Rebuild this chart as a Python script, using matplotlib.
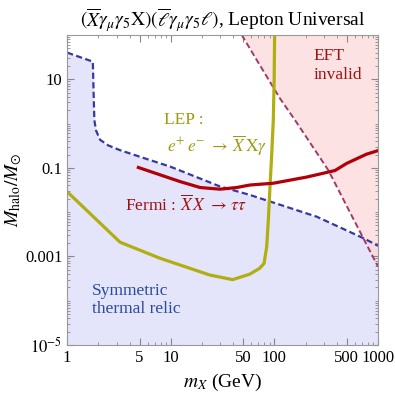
import numpy as np
import matplotlib
matplotlib.use('Agg')
import matplotlib.pyplot as plt
from matplotlib.ticker import LogLocator, NullFormatter

# thermal relic boundary (blue dashed)
relic_x = [1.0, 1.77, 1.80, 1.83, 1.9, 2.08, 2.5, 3.25, 6.3, 9.85, 29.9, 58, 256, 720, 1000]
relic_y = [40, 25, 5, 1.2, 0.7, 0.43, 0.32, 0.25, 0.15, 0.107, 0.038, 0.0245, 0.0079, 0.0026, 0.00174]

# EFT validity limit (purple dashed)
eft_x = [48.4, 67.5, 113, 158, 331, 720, 1000]
eft_y = [100, 27.3, 3.72, 1.2, 0.089, 0.0026, 0.00059]

# LEP bound (olive)
lep_x = [1.0, 3.24, 7.88, 23.9, 39.6, 58, 72, 79.5, 84.3, 87.4, 90.7, 94.3, 97.6, 99.5, 100.5]
lep_y = [0.029, 0.0021, 0.00091, 0.00038, 0.0003, 0.0004, 0.00054, 0.0007, 0.00166, 0.0066,
         0.038, 0.21, 1.2, 10, 100]

# Fermi bound (red)
fermi_x = [4.87, 12.3, 19.2, 29.9, 43.3, 58, 97.6, 205, 384, 498, 776, 1000]
fermi_y = [0.102, 0.049, 0.036, 0.033, 0.036, 0.041, 0.045, 0.062, 0.087, 0.126, 0.204, 0.245]

plt.rcParams['font.family'] = ['Liberation Serif', 'DejaVu Serif']
plt.rcParams['mathtext.fontset'] = 'stix'

fig = plt.figure(figsize=(3.95, 3.93), dpi=100)
ax = fig.add_axes([0.17, 0.122, 0.787, 0.789])
ax.set_xscale('log')
ax.set_yscale('log')
ax.set_xlim(1, 1000)
ax.set_ylim(1e-5, 100)

ax.fill_between(relic_x, relic_y, 1e-5, color='#dcdcfa', alpha=0.75, lw=0)
ax.fill_between(eft_x, eft_y, 100, color='#fcd6d6', alpha=0.7, lw=0)

ax.plot(relic_x, relic_y, color='#3838a0', lw=1.6, dashes=(2.8, 1.5))
ax.plot(eft_x, eft_y, color='#a03a6a', lw=1.4, dashes=(3.1, 1.6))
ax.plot(lep_x, lep_y, color='#b0ae10', lw=2.3)
ax.plot(fermi_x, fermi_y, color='#b00008', lw=2.3)

fs = 12.5
ax.text(240, 20, 'EFT\ninvalid', color='#a01010', fontsize=fs, ha='left', va='center', linespacing=1.25)
ax.text(8.6, 1.2, 'LEP :', color='#9c9a10', fontsize=fs, ha='left', va='center')
ax.text(9.2, 0.31, r'$e^{+}\,e^{-}\ \rightarrow\,\overline{X}\,\mathrm{X}\gamma$', color='#9c9a10',
        fontsize=fs, ha='left', va='center')
ax.text(3.6, 0.0145, r'Fermi : $\overline{X}\,X\ \rightarrow\,\tau\tau$', color='#a01010',
        fontsize=fs, ha='left', va='center')
ax.text(1.73, 0.000104, 'Symmetric\nthermal relic', color='#2a4c9c', fontsize=fs,
        ha='left', va='center', linespacing=1.2)

ax.set_xticks([1, 5, 10, 50, 100, 500, 1000])
ax.set_xticklabels(['1', '5', '10', '50', '100', '500', '1000'])
ax.set_yticks([1e-5, 1e-3, 1e-1, 10])
ax.set_yticklabels([r'$10^{-5}$', '0.001', '0.1', '10'])
ax.yaxis.set_minor_locator(LogLocator(base=10, subs=np.arange(1, 10), numticks=20))
ax.yaxis.set_minor_formatter(NullFormatter())
ax.tick_params(which='both', direction='in', top=True, right=True, colors='#888888',
               labelcolor='black', labelsize=12)
ax.tick_params(which='major', length=5)
ax.tick_params(which='minor', length=2.5)
for s in ax.spines.values():
    s.set_color('#999999')

ax.set_xlabel(r'$m_X$ (GeV)', fontsize=14, labelpad=4)
ax.set_ylabel(r'$M_{\rm halo}/M_{\odot}$', fontsize=14, labelpad=1)
ax.set_title(r'$(\overline{X}\gamma_{\mu}\gamma_{5}\mathrm{X})(\overline{\ell}\gamma_{\mu}\gamma_{5}\ell)$, Lepton Universal',
             fontsize=14, pad=6)

fig.savefig('out.png', dpi=100)
